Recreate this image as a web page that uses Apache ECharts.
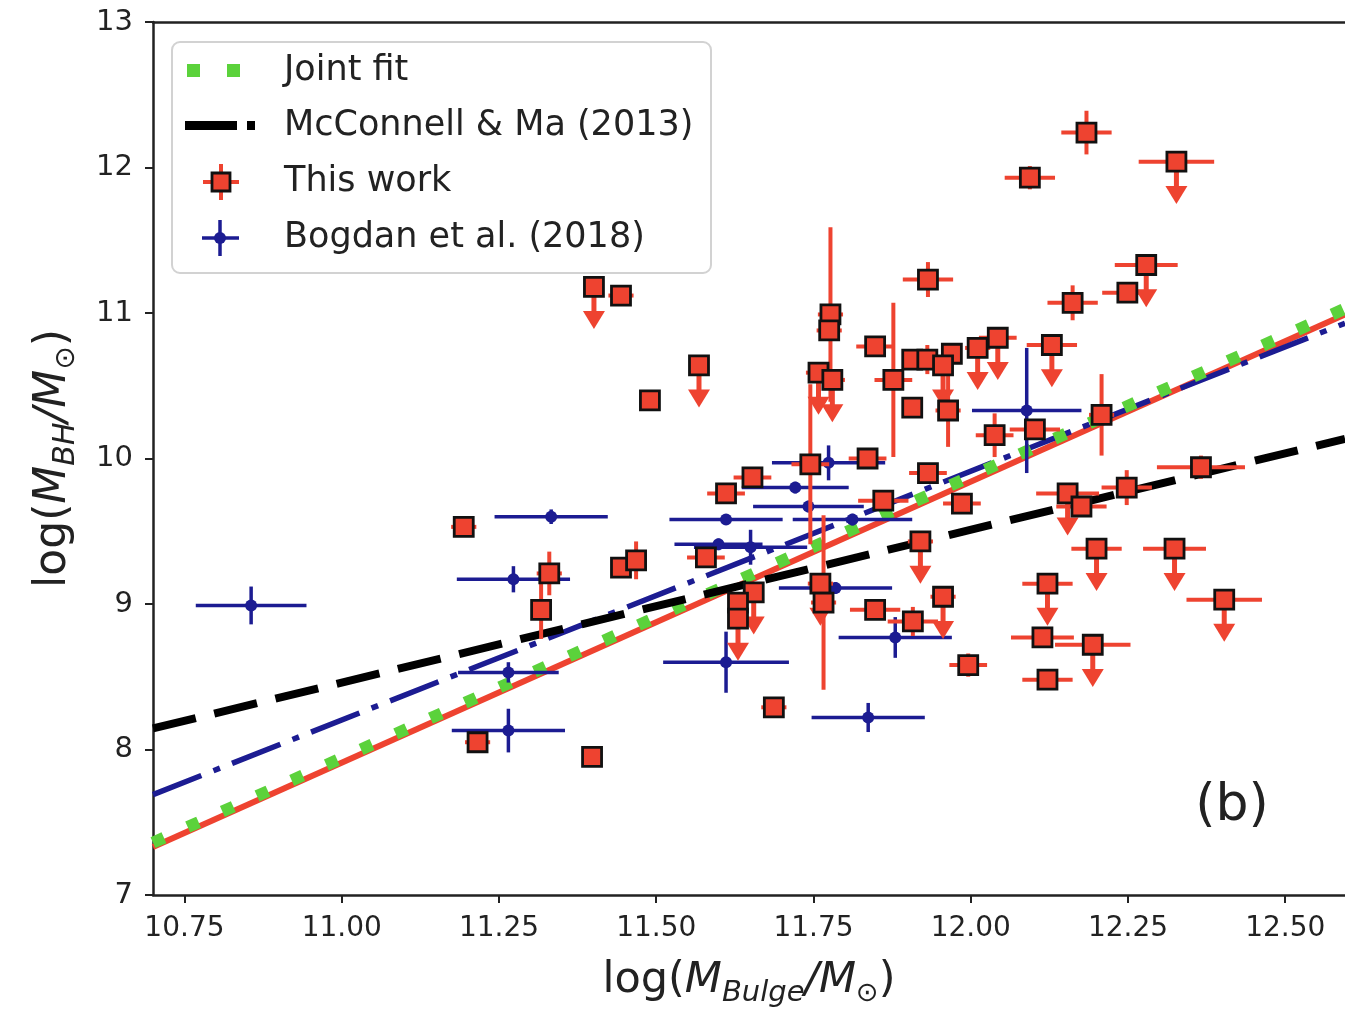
<!DOCTYPE html>
<html>
<head>
<meta charset="utf-8">
<script src="https://cdn.jsdelivr.net/npm/echarts@6/dist/echarts.min.js"></script>
<style>
html, body { margin: 0; padding: 0; background: #ffffff; }
#chart { width: 1345px; height: 1011px; }
</style>
</head>
<body>
<div id="chart"></div>
<script>
// Axis extents and tick values
const xRange = [10.70, 12.595];
const yRange = [7, 13];
const xTicks = [10.75, 11.00, 11.25, 11.50, 11.75, 12.00, 12.25, 12.50];

// This work: [log M_bulge, log M_BH, x error, y error, upper limit (1) or detection (0)]
const thisWork = [
  [11.401, 11.18, 0.00, 0.00, 1],
  [11.444, 11.12, 0.02, 0.00, 0],
  [11.490, 10.40, 0.00, 0.00, 0],
  [11.568, 10.64, 0.01, 0.00, 1],
  [11.194, 9.53, 0.02, 0.02, 0],
  [11.216, 8.05, 0.02, 0.00, 0],
  [11.398, 7.95, 0.00, 0.02, 0],
  [11.330, 9.21, 0.02, 0.15, 0],
  [11.317, 8.96, 0.00, 0.20, 0],
  [11.444, 9.25, 0.01, 0.05, 0],
  [11.468, 9.30, 0.01, 0.13, 0],
  [11.611, 9.76, 0.03, 0.02, 0],
  [11.653, 9.87, 0.03, 0.04, 0],
  [11.579, 9.32, 0.03, 0.02, 0],
  [11.777, 10.99, 0.02, 0.60, 0],
  [11.775, 10.88, 0.02, 0.00, 0],
  [11.848, 10.77, 0.03, 0.00, 0],
  [11.932, 11.23, 0.04, 0.12, 0],
  [12.162, 11.07, 0.04, 0.12, 0],
  [11.758, 10.59, 0.02, 0.00, 1],
  [11.780, 10.54, 0.02, 0.00, 1],
  [11.877, 10.54, 0.03, 0.53, 0],
  [11.907, 10.68, 0.01, 0.00, 0],
  [11.931, 10.68, 0.01, 0.10, 0],
  [11.970, 10.72, 0.01, 0.00, 0],
  [11.956, 10.64, 0.01, 0.00, 1],
  [12.011, 10.76, 0.02, 0.00, 1],
  [12.043, 10.83, 0.03, 0.00, 1],
  [12.129, 10.78, 0.04, 0.00, 1],
  [11.907, 10.35, 0.00, 0.00, 0],
  [11.964, 10.33, 0.02, 0.25, 0],
  [12.038, 10.16, 0.03, 0.15, 0],
  [12.102, 10.20, 0.04, 0.00, 0],
  [11.745, 9.96, 0.03, 0.55, 0],
  [11.836, 10.00, 0.03, 0.00, 0],
  [11.932, 9.90, 0.03, 0.03, 0],
  [11.861, 9.71, 0.04, 0.02, 0],
  [11.655, 9.08, 0.01, 0.00, 1],
  [11.630, 9.01, 0.01, 0.00, 0],
  [11.630, 8.90, 0.01, 0.00, 1],
  [11.761, 9.14, 0.02, 0.00, 1],
  [11.766, 9.01, 0.02, 0.60, 0],
  [11.920, 9.43, 0.02, 0.00, 1],
  [11.848, 8.96, 0.04, 0.00, 0],
  [11.908, 8.88, 0.04, 0.10, 0],
  [11.956, 9.05, 0.02, 0.00, 1],
  [11.687, 8.29, 0.02, 0.00, 0],
  [12.208, 10.30, 0.02, 0.28, 0],
  [11.986, 9.69, 0.03, 0.00, 0],
  [12.154, 9.76, 0.05, 0.00, 1],
  [12.176, 9.67, 0.04, 0.00, 0],
  [12.248, 9.80, 0.04, 0.12, 0],
  [12.366, 9.94, 0.07, 0.08, 0],
  [12.200, 9.38, 0.04, 0.00, 1],
  [12.324, 9.38, 0.05, 0.00, 1],
  [12.403, 9.03, 0.06, 0.00, 1],
  [12.122, 9.14, 0.04, 0.00, 1],
  [12.114, 8.77, 0.05, 0.00, 0],
  [12.194, 8.72, 0.06, 0.00, 1],
  [12.122, 8.48, 0.04, 0.07, 0],
  [11.996, 8.58, 0.03, 0.08, 0],
  [12.094, 11.93, 0.04, 0.08, 0],
  [12.184, 12.24, 0.04, 0.15, 0],
  [12.327, 12.04, 0.06, 0.00, 1],
  [12.279, 11.33, 0.05, 0.00, 1],
  [12.249, 11.14, 0.04, 0.00, 0]
];

// Bogdan et al. (2018): [log M_bulge, log M_BH, x error, y error]
const bogdan = [
  [10.856, 8.99, 0.088, 0.13],
  [11.333, 9.60, 0.090, 0.05],
  [11.273, 9.17, 0.090, 0.09],
  [11.265, 8.53, 0.080, 0.07],
  [11.265, 8.13, 0.090, 0.15],
  [11.611, 8.60, 0.100, 0.21],
  [11.837, 8.22, 0.090, 0.10],
  [11.880, 8.77, 0.090, 0.14],
  [11.774, 9.97, 0.090, 0.12],
  [11.611, 9.58, 0.090, 0.03],
  [11.721, 9.80, 0.085, 0.04],
  [11.742, 9.67, 0.088, 0.04],
  [11.599, 9.41, 0.070, 0.04],
  [11.650, 9.39, 0.090, 0.12],
  [11.785, 9.11, 0.090, 0.04],
  [11.812, 9.58, 0.095, 0.04],
  [12.089, 10.33, 0.087, 0.43]
];

// Scaling relations, given by their end points across the plotted range
const jointFit = [[10.70, 7.36], [12.595, 11.03]];
const thisWorkFit = [[10.70, 7.33], [12.595, 10.99]];
const bogdanFit = [[10.70, 7.69], [12.595, 10.93]];
const mcconnellMa = [[10.70, 8.145], [12.595, 10.135]];

// Length of the upper-limit arrows, in dex
const limitArrow = 0.29;

const RED = '#ee4330';
const BLUE = '#1c1c92';
const GREEN = '#5bd23b';
const INK = '#222222';
const FONT = '"DejaVu Sans", "Liberation Sans", sans-serif';

function errorBars(color, width, withLimits) {
  return function (params, api) {
    const x = api.value(0), y = api.value(1);
    const xe = api.value(2), ye = api.value(3);
    const ul = withLimits ? api.value(4) : 0;
    const c = api.coord([x, y]);
    const kids = [];
    const st = { stroke: color, lineWidth: width };
    if (xe > 0) {
      const a = api.coord([x - xe, y]), b = api.coord([x + xe, y]);
      kids.push({ type: 'line', shape: { x1: a[0], y1: a[1], x2: b[0], y2: b[1] }, style: st });
    }
    if (ye > 0) {
      const a = api.coord([x, y - ye]), b = api.coord([x, y + ye]);
      kids.push({ type: 'line', shape: { x1: a[0], y1: a[1], x2: b[0], y2: b[1] }, style: st });
    }
    if (ul) {
      const t = api.coord([x, y - limitArrow]);
      const hh = 18, hw = 11;
      kids.push({ type: 'line', shape: { x1: c[0], y1: c[1], x2: t[0], y2: t[1] - hh + 2 }, style: { stroke: color, lineWidth: width + 1 } });
      kids.push({ type: 'polygon', shape: { points: [[t[0] - hw, t[1] - hh], [t[0] + hw, t[1] - hh], [t[0], t[1]]] }, style: { fill: color } });
    }
    return { type: 'group', children: kids };
  };
}

function titleRich(size) {
  const sub = Math.round(size * 0.68);
  return {
    n: { fontSize: size, fontFamily: FONT, color: INK, lineHeight: size * 1.25 },
    i: { fontSize: size, fontStyle: 'italic', fontFamily: FONT, color: INK, lineHeight: size * 1.25 },
    s: { fontSize: sub, fontStyle: 'italic', fontFamily: FONT, color: INK, verticalAlign: 'bottom', lineHeight: sub * 1.1 },
    o: { fontSize: sub - 2, fontFamily: FONT, color: INK, verticalAlign: 'bottom', lineHeight: sub * 1.1 }
  };
}

const chart = echarts.init(document.getElementById('chart'), null, { renderer: 'canvas' });

const option = {
  animation: false,
  backgroundColor: '#ffffff',
  grid: { left: 153, top: 22, right: 0, bottom: 116, containLabel: false, outerBoundsMode: 'none' },
  xAxis: [
    {
      type: 'value', min: xRange[0], max: xRange[1], position: 'bottom',
      axisLine: { show: true, onZero: false, lineStyle: { color: INK, width: 2.5 } },
      axisTick: { show: true, length: 8, lineStyle: { color: INK, width: 2 }, customValues: xTicks },
      axisLabel: { customValues: xTicks, formatter: v => v.toFixed(2), fontSize: 28, fontFamily: FONT, color: INK, margin: 20 },
      splitLine: { show: false },
      name: '{n|log(}{i|M}{s|Bulge}{i|/M}{o|⊙}{n|)}',
      nameLocation: 'middle', nameGap: 59,
      nameTextStyle: { rich: titleRich(43) }
    },
    {
      type: 'value', min: xRange[0], max: xRange[1], position: 'top',
      axisLine: { show: true, onZero: false, lineStyle: { color: INK, width: 2.5 } },
      axisTick: { show: false }, axisLabel: { show: false }, splitLine: { show: false }
    }
  ],
  yAxis: {
    type: 'value', min: yRange[0], max: yRange[1], interval: 1,
    axisLine: { show: true, onZero: false, lineStyle: { color: INK, width: 2.5 } },
    axisTick: { show: true, length: 8, lineStyle: { color: INK, width: 2 } },
    axisLabel: { fontSize: 29, fontFamily: FONT, color: INK, margin: 20 },
    splitLine: { show: false },
    name: '{n|log(}{i|M}{s|BH}{i|/M}{o|⊙}{n|)}',
    nameLocation: 'middle', nameGap: 72, nameRotate: 90,
    nameTextStyle: { rich: titleRich(44) }
  },
  series: [
    {
      name: 'This work fit', type: 'line', data: thisWorkFit, showSymbol: false, z: 2,
      lineStyle: { color: RED, width: 6 }, silent: true
    },
    {
      name: 'Bogdan fit', type: 'line', data: bogdanFit, showSymbol: false, z: 2,
      lineStyle: { color: BLUE, width: 5.5, type: [52, 13, 7, 13] }, silent: true
    },
    {
      name: 'Joint fit', type: 'line', data: jointFit, showSymbol: false, z: 2,
      lineStyle: { color: GREEN, width: 12, type: [12, 26], cap: 'butt' }, silent: true
    },
    {
      name: 'McConnell & Ma (2013)', type: 'line', data: mcconnellMa, showSymbol: false, z: 2,
      lineStyle: { color: '#000000', width: 8, type: [44, 19] }, silent: true
    },
    {
      name: 'Bogdan et al. (2018) errors', type: 'custom', data: bogdan, z: 3, clip: true,
      encode: { x: 0, y: 1 }, renderItem: errorBars(BLUE, 3.5, false), silent: true
    },
    {
      name: 'Bogdan et al. (2018)', type: 'scatter', data: bogdan, z: 4,
      symbol: 'circle', symbolSize: 12, itemStyle: { color: BLUE, opacity: 1 }, silent: true
    },
    {
      name: 'This work errors', type: 'custom', data: thisWork, z: 5, clip: true,
      encode: { x: 0, y: 1 }, renderItem: errorBars(RED, 4, true), silent: true
    },
    {
      name: 'This work', type: 'scatter', data: thisWork, z: 6,
      symbol: 'rect', symbolSize: 19,
      itemStyle: { color: RED, borderColor: '#111111', borderWidth: 2.8, opacity: 1 }, silent: true
    }
  ],
  graphic: [
    {
      type: 'group', z: 100, children: [
        { type: 'rect', shape: { x: 172, y: 42, width: 539, height: 231, r: 8 },
          style: { fill: 'rgba(255,255,255,0.85)', stroke: '#d2d2d2', lineWidth: 2 } },
        // Joint fit key
        { type: 'rect', shape: { x: 187, y: 64, width: 13, height: 13 }, style: { fill: GREEN } },
        { type: 'rect', shape: { x: 227, y: 64, width: 13, height: 13 }, style: { fill: GREEN } },
        // McConnell & Ma key
        { type: 'rect', shape: { x: 185, y: 121, width: 52, height: 9 }, style: { fill: '#000000' } },
        { type: 'rect', shape: { x: 247, y: 121, width: 8, height: 9 }, style: { fill: '#000000' } },
        // This work key
        { type: 'line', shape: { x1: 203, y1: 182, x2: 239, y2: 182 }, style: { stroke: RED, lineWidth: 4 } },
        { type: 'line', shape: { x1: 221, y1: 164, x2: 221, y2: 200 }, style: { stroke: RED, lineWidth: 4 } },
        { type: 'rect', shape: { x: 212, y: 173, width: 18, height: 18 }, style: { fill: RED, stroke: '#111111', lineWidth: 2.8 } },
        // Bogdan key
        { type: 'line', shape: { x1: 202, y1: 238, x2: 239, y2: 238 }, style: { stroke: BLUE, lineWidth: 3.5 } },
        { type: 'line', shape: { x1: 220, y1: 220, x2: 220, y2: 256 }, style: { stroke: BLUE, lineWidth: 3.5 } },
        { type: 'circle', shape: { cx: 220, cy: 238, r: 6 }, style: { fill: BLUE } },
        // Labels
        { type: 'text', style: { text: 'Joint fit', x: 284, y: 71, fill: INK, font: '35px ' + FONT, verticalAlign: 'middle' } },
        { type: 'text', style: { text: 'McConnell & Ma (2013)', x: 284, y: 126, fill: INK, font: '35px ' + FONT, verticalAlign: 'middle' } },
        { type: 'text', style: { text: 'This work', x: 284, y: 182, fill: INK, font: '35px ' + FONT, verticalAlign: 'middle' } },
        { type: 'text', style: { text: 'Bogdan et al. (2018)', x: 284, y: 238, fill: INK, font: '35px ' + FONT, verticalAlign: 'middle' } }
      ]
    },
    // Panel tag
    { type: 'text', z: 100, style: { text: '(b)', x: 1232, y: 806, fill: INK, font: '52px ' + FONT, align: 'center', verticalAlign: 'middle' } }
  ]
};

chart.setOption(option);
</script>
</body>
</html>
